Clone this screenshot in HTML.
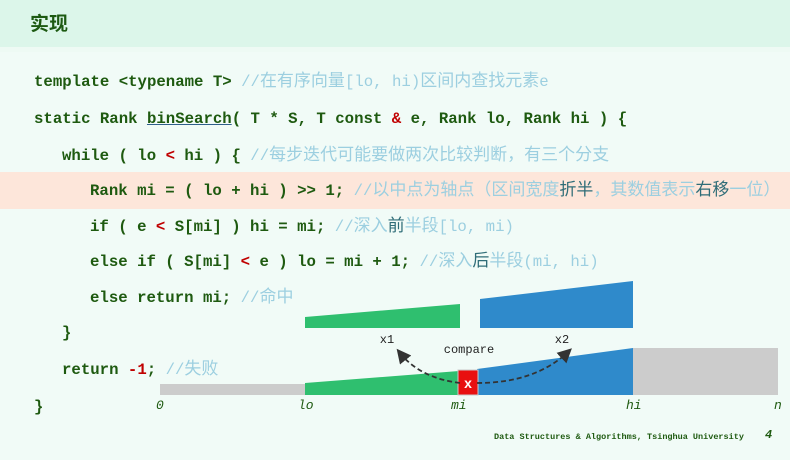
<!DOCTYPE html>
<html><head><meta charset="utf-8"><style>
body{margin:0;width:790px;height:446px;overflow:hidden;background:#eefaf4;position:relative;font-family:"Liberation Sans","Noto Sans CJK SC",sans-serif}
.hdr{position:absolute;left:0;top:0;width:790px;height:47px;background:#dcf6ea}
.t{position:absolute;left:30px;top:9px;font-size:19px;font-weight:bold;color:#1d5a12}
.body{position:absolute;left:0;top:52px;width:790px;height:408px;background:#f1fbf7}
.hl{position:absolute;left:0;top:172px;width:790px;height:37px;background:#fde6da}
.l{position:absolute;white-space:pre;font-family:"Liberation Mono","Noto Sans CJK SC",monospace;font-size:15.7px;font-weight:bold;color:#1e5a10;line-height:20px}
.c{color:#9ccfe0;font-weight:normal;font-family:"Liberation Mono","Noto Sans CJK SC",monospace}
i{font-style:normal;font-size:17px;line-height:20px}
.e{color:#2f6d78}
.r{color:#c00000}
.u{text-decoration:underline;text-decoration-color:#2f5f8a}
.ax{position:absolute;top:398px;font-family:"Liberation Mono",monospace;font-style:italic;font-size:13px;color:#1e5a10}
.ft{position:absolute;left:494px;top:432px;font-family:"Liberation Mono",monospace;font-size:8.5px;font-weight:bold;color:#1e5a10}
</style></head><body>
<div class="hdr"></div><div class="t">实现</div>
<div class="body"></div>
<div class="hl"></div>
<div class="l" style="left:34px;top:72px">template &lt;typename T&gt; <span class="c">//<i>在有序向量</i>[lo, hi)<i>区间内查找元素</i>e</span></div>
<div class="l" style="left:34px;top:109px">static Rank <span class="u">binSearch</span>( T * S, T const <span class="r">&amp;</span> e, Rank lo, Rank hi ) {</div>
<div class="l" style="left:62px;top:146px">while ( lo <span class="r">&lt;</span> hi ) { <span class="c">//<i>每步迭代可能要做两次比较判断，有三个分支</i></span></div>
<div class="l" style="left:90px;top:181px">Rank mi = ( lo + hi ) &gt;&gt; 1; <span class="c">//<i>以中点为轴点（区间宽度<span class="e">折半</span>，其数值表示<span class="e">右移</span>一位）</i></span></div>
<div class="l" style="left:90px;top:217px">if ( e <span class="r">&lt;</span> S[mi] ) hi = mi; <span class="c">//<i>深入<span class="e">前</span>半段</i>[lo, mi)</span></div>
<div class="l" style="left:90px;top:252px">else if ( S[mi] <span class="r">&lt;</span> e ) lo = mi + 1; <span class="c">//<i>深入<span class="e">后</span>半段</i>(mi, hi)</span></div>
<div class="l" style="left:90px;top:288px">else return mi; <span class="c">//<i>命中</i></span></div>
<div class="l" style="left:62px;top:323px">}</div>
<div class="l" style="left:62px;top:360px">return <span class="r">-1</span>; <span class="c">//<i>失败</i></span></div>
<div class="l" style="left:34px;top:397px">}</div>
<svg style="position:absolute;left:0;top:0" width="790" height="446">
<defs><marker id="a" markerWidth="8" markerHeight="8" refX="5" refY="4" orient="auto"><path d="M0,0 L8,4 L0,8 z" fill="#333"/></marker></defs>
<polygon points="305,317 460,304 460,328 305,328" fill="#2fbf6f"/>
<polygon points="480,299 633,281 633,328 480,328" fill="#2f8acb"/>
<rect x="160" y="384" width="145" height="11" fill="#cccccc"/>
<polygon points="305,383 459,371 459,395 305,395" fill="#2fbf6f"/>
<polygon points="477,369 633,348 633,395 477,395" fill="#2f8acb"/>
<rect x="633" y="348" width="145" height="47" fill="#cccccc"/>
<rect x="458" y="370" width="20" height="25" fill="#e81010" stroke="#c9c9c9"/>
<text x="468" y="388" font-family="Liberation Sans" font-weight="bold" font-size="14" fill="#fff" text-anchor="middle">x</text>
<path d="M460,383 Q420,378 400,353" fill="none" stroke="#333" stroke-width="1.8" stroke-dasharray="5,3" marker-end="url(#a)"/>
<path d="M477,383 Q535,383 568,352" fill="none" stroke="#333" stroke-width="1.8" stroke-dasharray="5,3" marker-end="url(#a)"/>
<text x="387" y="343" font-family="Liberation Mono" font-size="12" fill="#222" text-anchor="middle">x1</text>
<text x="562" y="343" font-family="Liberation Mono" font-size="12" fill="#222" text-anchor="middle">x2</text>
<text x="469" y="353" font-family="Liberation Mono" font-size="12" fill="#222" text-anchor="middle">compare</text>
</svg>
<div class="ax" style="left:156px">0</div>
<div class="ax" style="left:298px">lo</div>
<div class="ax" style="left:451px">mi</div>
<div class="ax" style="left:626px">hi</div>
<div class="ax" style="left:774px">n</div>
<div class="ft">Data Structures &amp; Algorithms, Tsinghua University</div>
<div class="ft" style="left:765px;top:428px;font-size:12px;font-style:italic">4</div>
</body></html>
